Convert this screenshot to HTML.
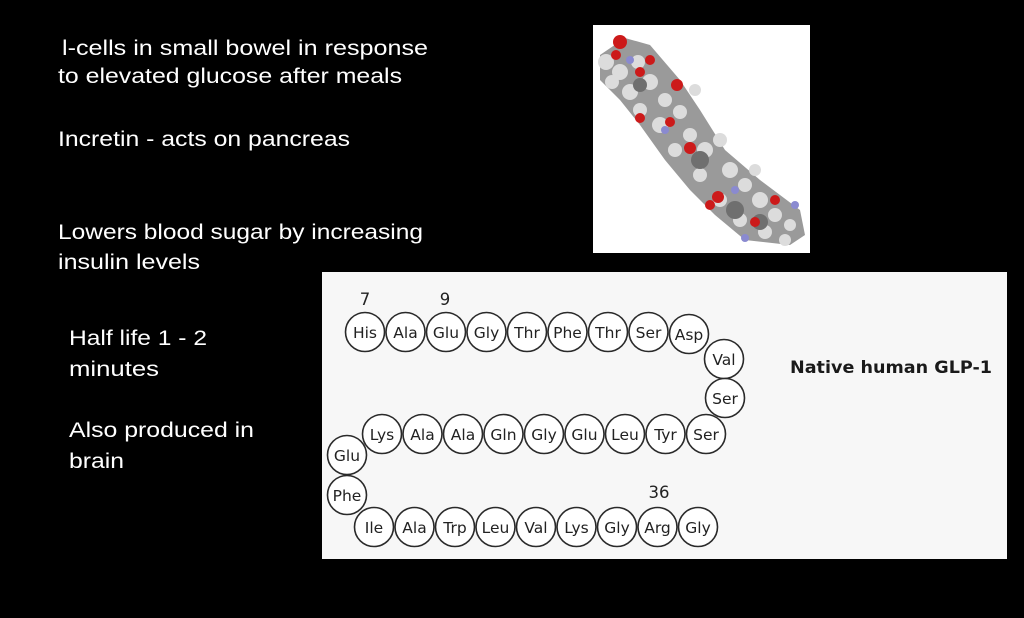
<!DOCTYPE html>
<html><head><meta charset="utf-8"><style>
html,body{margin:0;padding:0;background:#000;}
svg{display:block;}
.t{fill:#fff;font-family:"Liberation Sans",sans-serif;font-size:21px;}
.a{font-family:"DejaVu Sans","Liberation Sans",sans-serif;font-size:15.5px;fill:#222;text-anchor:middle;}
.n{font-family:"DejaVu Sans","Liberation Sans",sans-serif;font-size:16.5px;fill:#222;text-anchor:middle;}
</style></head><body>
<svg width="1024" height="618" viewBox="0 0 1024 618" xmlns="http://www.w3.org/2000/svg">
<rect width="1024" height="618" fill="#000"/>
<text class="t" x="62" y="55" textLength="366" lengthAdjust="spacingAndGlyphs">l-cells in small bowel in response</text>
<text class="t" x="58" y="83" textLength="344" lengthAdjust="spacingAndGlyphs">to elevated glucose after meals</text>
<text class="t" x="58" y="146" textLength="292" lengthAdjust="spacingAndGlyphs">Incretin - acts on pancreas</text>
<text class="t" x="58" y="239" textLength="365" lengthAdjust="spacingAndGlyphs">Lowers blood sugar by increasing</text>
<text class="t" x="58" y="269" textLength="142" lengthAdjust="spacingAndGlyphs">insulin levels</text>
<text class="t" x="69" y="345" textLength="138" lengthAdjust="spacingAndGlyphs">Half life 1 - 2</text>
<text class="t" x="69" y="376" textLength="90" lengthAdjust="spacingAndGlyphs">minutes</text>
<text class="t" x="69" y="437" textLength="185" lengthAdjust="spacingAndGlyphs">Also produced in</text>
<text class="t" x="69" y="468" textLength="55" lengthAdjust="spacingAndGlyphs">brain</text>

<!-- molecule image -->
<rect x="593" y="25" width="217" height="228" fill="#fff"/>
<g>
<path d="M600 55 L625 38 L650 45 L680 80 L700 110 L725 150 L760 180 L800 210 L805 235 L790 245 L745 240 L715 215 L690 190 L665 160 L640 125 L620 100 L600 80 Z" fill="#9a9a9a"/>
<g fill="#dcdcdc">
<circle cx="606" cy="62" r="8"/><circle cx="620" cy="72" r="8"/><circle cx="638" cy="62" r="7"/><circle cx="650" cy="82" r="8"/><circle cx="630" cy="92" r="8"/><circle cx="612" cy="82" r="7"/><circle cx="665" cy="100" r="7"/><circle cx="680" cy="112" r="7"/><circle cx="660" cy="125" r="8"/><circle cx="690" cy="135" r="7"/><circle cx="705" cy="150" r="8"/><circle cx="720" cy="140" r="7"/><circle cx="730" cy="170" r="8"/><circle cx="745" cy="185" r="7"/><circle cx="760" cy="200" r="8"/><circle cx="775" cy="215" r="7"/><circle cx="790" cy="225" r="6"/><circle cx="765" cy="232" r="7"/><circle cx="640" cy="110" r="7"/><circle cx="700" cy="175" r="7"/><circle cx="675" cy="150" r="7"/><circle cx="720" cy="200" r="7"/><circle cx="740" cy="220" r="7"/><circle cx="785" cy="240" r="6"/><circle cx="695" cy="90" r="6"/><circle cx="755" cy="170" r="6"/>
</g>
<g fill="#6f6f6f">
<circle cx="700" cy="160" r="9"/><circle cx="735" cy="210" r="9"/><circle cx="640" cy="85" r="7"/><circle cx="760" cy="222" r="8"/>
</g>
<g fill="#cc1a1a">
<circle cx="620" cy="42" r="7"/><circle cx="616" cy="55" r="5"/><circle cx="677" cy="85" r="6"/><circle cx="640" cy="72" r="5"/><circle cx="690" cy="148" r="6"/><circle cx="718" cy="197" r="6"/><circle cx="710" cy="205" r="5"/><circle cx="775" cy="200" r="5"/><circle cx="670" cy="122" r="5"/><circle cx="755" cy="222" r="5"/><circle cx="640" cy="118" r="5"/><circle cx="650" cy="60" r="5"/>
</g>
<g fill="#8a8ad0">
<circle cx="630" cy="60" r="4"/><circle cx="665" cy="130" r="4"/><circle cx="735" cy="190" r="4"/><circle cx="795" cy="205" r="4"/><circle cx="745" cy="238" r="4"/>
</g>
</g>

<!-- peptide panel -->
<rect x="322" y="272" width="685" height="287" fill="#f7f7f7"/>
<g fill="#fff" stroke="#2a2a2a" stroke-width="1.6">
<circle cx="365" cy="332" r="19.5"/><circle cx="405.5" cy="332" r="19.5"/><circle cx="446" cy="332" r="19.5"/><circle cx="486.5" cy="332" r="19.5"/><circle cx="527" cy="332" r="19.5"/><circle cx="567.5" cy="332" r="19.5"/><circle cx="608" cy="332" r="19.5"/><circle cx="648.5" cy="332" r="19.5"/><circle cx="689" cy="334" r="19.5"/>
<circle cx="724" cy="359" r="19.5"/><circle cx="725" cy="398" r="19.5"/>
<circle cx="382" cy="434" r="19.5"/><circle cx="422.5" cy="434" r="19.5"/><circle cx="463" cy="434" r="19.5"/><circle cx="503.5" cy="434" r="19.5"/><circle cx="544" cy="434" r="19.5"/><circle cx="584.5" cy="434" r="19.5"/><circle cx="625" cy="434" r="19.5"/><circle cx="665.5" cy="434" r="19.5"/><circle cx="706" cy="434" r="19.5"/>
<circle cx="347" cy="455" r="19.5"/><circle cx="347" cy="495" r="19.5"/>
<circle cx="374" cy="527" r="19.5"/><circle cx="414.5" cy="527" r="19.5"/><circle cx="455" cy="527" r="19.5"/><circle cx="495.5" cy="527" r="19.5"/><circle cx="536" cy="527" r="19.5"/><circle cx="576.5" cy="527" r="19.5"/><circle cx="617" cy="527" r="19.5"/><circle cx="657.5" cy="527" r="19.5"/><circle cx="698" cy="527" r="19.5"/>
</g>
<g class="a">
<text x="365" y="338">His</text><text x="405.5" y="338">Ala</text><text x="446" y="338">Glu</text><text x="486.5" y="338">Gly</text><text x="527" y="338">Thr</text><text x="567.5" y="338">Phe</text><text x="608" y="338">Thr</text><text x="648.5" y="338">Ser</text><text x="689" y="340">Asp</text>
<text x="724" y="365">Val</text><text x="725" y="404">Ser</text>
<text x="382" y="440">Lys</text><text x="422.5" y="440">Ala</text><text x="463" y="440">Ala</text><text x="503.5" y="440">Gln</text><text x="544" y="440">Gly</text><text x="584.5" y="440">Glu</text><text x="625" y="440">Leu</text><text x="665.5" y="440">Tyr</text><text x="706" y="440">Ser</text>
<text x="347" y="461">Glu</text><text x="347" y="501">Phe</text>
<text x="374" y="533">Ile</text><text x="414.5" y="533">Ala</text><text x="455" y="533">Trp</text><text x="495.5" y="533">Leu</text><text x="536" y="533">Val</text><text x="576.5" y="533">Lys</text><text x="617" y="533">Gly</text><text x="657.5" y="533">Arg</text><text x="698" y="533">Gly</text>
</g>
<g class="n"><text x="365" y="305">7</text><text x="445" y="305">9</text><text x="659" y="498">36</text></g>
<text x="790" y="373" font-family="DejaVu Sans,Liberation Sans,sans-serif" font-weight="bold" font-size="17" fill="#1a1a1a" textLength="202" lengthAdjust="spacingAndGlyphs">Native human GLP-1</text>
</svg>
</body></html>
